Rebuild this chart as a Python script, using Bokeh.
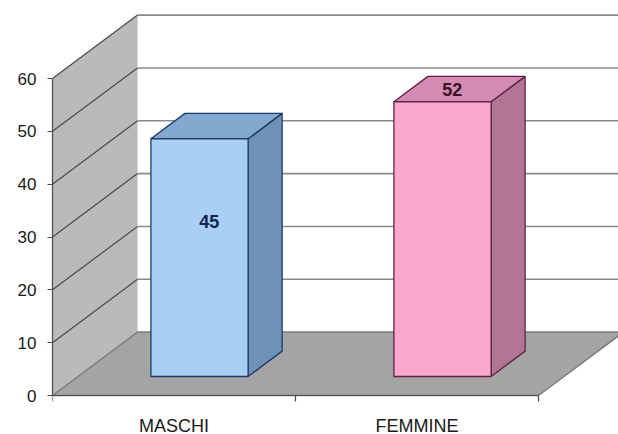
from bokeh.plotting import figure
from bokeh.models import Range1d, FixedTicker
from bokeh.embed import file_html
from bokeh.resources import INLINE
from bokeh.core.properties import value

# Data
categories = ["MASCHI", "FEMMINE"]
values = [45, 52]
y_ticks = [0, 10, 20, 30, 40, 50, 60]

# Oblique 3-D look: depth t in [0, 1] shifts x by DX (category units) and y by DY (value units)
DX = 0.35
DY = 12.0
BAR_W = 0.4
BAR_T0, BAR_T1 = 0.3, 0.7
Y_MAX = 60
N = len(categories)

# front, top, side, outline colours per bar
bar_colors = [
    ("#a9cff4", "#83a8d0", "#6d92b6", "#1f3a66"),
    ("#fba8d0", "#d48bb3", "#b07694", "#5e2446"),
]
label_colors = ["#12244d", "#3d0f27"]
label_height = [0.6, 1.0]   # fraction of bar height where the value label sits
LABEL_DX = -0.03

FONT = "Liberation Sans"
AXIS_COLOR = "#4a4a4a"


def proj(x, v, t):
    return x + t * DX, v + t * DY


def poly(points):
    xs, ys = [], []
    for x, v, t in points:
        px, py = proj(x, v, t)
        xs.append(px)
        ys.append(py)
    return xs, ys


PX_PER_CAT = 243.0
PX_PER_VAL = 317.0 / 60.0

p = figure(
    width=618, height=434,
    x_range=Range1d(0, 566 / PX_PER_CAT),
    y_range=Range1d(-39 / PX_PER_VAL, 395 / PX_PER_VAL),
    output_backend="svg", toolbar_location=None,
    min_border_left=52, min_border_bottom=0,
    min_border_top=0, min_border_right=0,
    background_fill_color="white", border_fill_color="white",
    outline_line_color=None,
)
p.grid.visible = False
p.xaxis.visible = False

# Left wall
lx, ly = poly([(0, 0, 0), (0, 0, 1), (0, Y_MAX, 1), (0, Y_MAX, 0)])
p.patch(lx, ly, fill_color="#bababa", line_color=None)

# Floor
fx, fy = poly([(0, 0, 0), (N, 0, 0), (N, 0, 1), (0, 0, 1)])
p.patch(fx, fy, fill_color="#a4a4a4", line_color="#7c7c7c", line_width=1.5)

# Gridlines: diagonals on the left wall and horizontals on the back wall
gx0, gy0, gx1, gy1 = [], [], [], []
bx0, by0, bx1, by1 = [], [], [], []
for v in y_ticks[1:]:
    a = proj(0, v, 0)
    b = proj(0, v, 1)
    c = proj(N, v, 1)
    gx0.append(a[0]); gy0.append(a[1]); gx1.append(b[0]); gy1.append(b[1])
    bx0.append(b[0]); by0.append(b[1]); bx1.append(c[0]); by1.append(c[1])
p.segment(gx0, gy0, gx1, gy1, line_color=AXIS_COLOR, line_width=1.2)
p.segment(bx0, by0, bx1, by1, line_color="#8a8a8a", line_width=1.6)

# Bars
for i, val in enumerate(values):
    xc = i + 0.5
    x0, x1 = xc - BAR_W / 2, xc + BAR_W / 2
    front_c, top_c, side_c, edge_c = bar_colors[i]
    side = poly([(x1, 0, BAR_T0), (x1, 0, BAR_T1), (x1, val, BAR_T1), (x1, val, BAR_T0)])
    top = poly([(x0, val, BAR_T0), (x1, val, BAR_T0), (x1, val, BAR_T1), (x0, val, BAR_T1)])
    front = poly([(x0, 0, BAR_T0), (x1, 0, BAR_T0), (x1, val, BAR_T0), (x0, val, BAR_T0)])
    p.patches([side[0], top[0], front[0]], [side[1], top[1], front[1]],
              fill_color=[side_c, top_c, front_c], line_color=edge_c, line_width=1.3)

# Value labels
for i, val in enumerate(values):
    tx, ty = proj(i + 0.5 + LABEL_DX, val * label_height[i], 0.5)
    p.text([tx], [ty], text=[str(val)], text_align="center", text_baseline="middle",
           text_font=value(FONT), text_font_style="bold", text_font_size="18px",
           text_color=label_colors[i])

# Category axis along the front edge of the floor
TICK_LEN = 6 / PX_PER_VAL
LABEL_Y = -30 / PX_PER_VAL
p.segment([0], [0], [N], [0], line_color=AXIS_COLOR, line_width=1.2)
p.segment(list(range(N + 1)), [0] * (N + 1), list(range(N + 1)), [-TICK_LEN] * (N + 1),
          line_color=AXIS_COLOR, line_width=1.2)
p.text([i + 0.5 for i in range(N)], [LABEL_Y] * N, text=categories,
       text_align="center", text_baseline="middle",
       text_font=value(FONT), text_font_size="18px", text_color="#1a1a1a")

# Value axis
ya = p.yaxis[0]
ya.ticker = FixedTicker(ticks=y_ticks)
ya.bounds = (0, Y_MAX)
ya.axis_line_color = AXIS_COLOR
ya.axis_line_width = 1.2
ya.major_tick_line_color = AXIS_COLOR
ya.major_tick_out = 5
ya.major_tick_in = 0
ya.minor_tick_line_color = None
ya.major_label_standoff = 11
ya.major_label_text_font = FONT
ya.major_label_text_font_size = "17px"
ya.major_label_text_color = "#1a1a1a"

open("out.html", "w").write(file_html(p, INLINE))
